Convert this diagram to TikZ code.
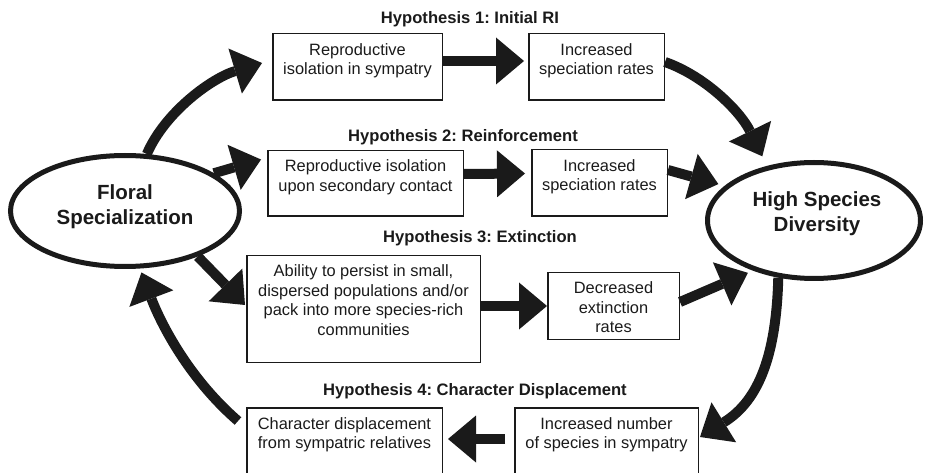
\documentclass[tikz,border=0pt]{standalone}
\usepackage{fontspec}
\setmainfont{Liberation Sans}
\usetikzlibrary{shapes.geometric,arrows.meta}
\definecolor{ink}{HTML}{1A1A1A}
\frenchspacing
\begin{document}
\begin{tikzpicture}[x=1pt,y=-1pt,
  box/.style={draw=ink,line width=1.5pt,rectangle,inner sep=0pt},
  ell/.style={draw=ink,line width=5pt,ellipse,inner sep=0pt},
  txt/.style={font=\fontsize{16.4}{19.5}\selectfont,align=center,inner sep=0pt,text=ink,anchor=north},
  hyp/.style={font=\bfseries\fontsize{16.6}{20}\selectfont,inner sep=0pt,text=ink,anchor=base},
  bigtxt/.style={font=\bfseries\fontsize{20.5}{24.5}\selectfont,align=center,inner sep=0pt,text=ink,anchor=north},
  arr/.style={draw=ink,line width=10pt,-{Triangle[length=28pt,width=47pt,line width=0pt]}}]
\useasboundingbox (0,0) rectangle (927,473);

% ellipses
\node[ell,minimum width=229pt,minimum height=111pt] (ell1) at (125,211) {};
\node[ell,minimum width=213pt,minimum height=116pt] (ell2) at (814,220.5) {};
\node[bigtxt] (ell1t) at (125,184.5) {Floral\\Specialization};
\node[bigtxt] (ell2t) at (817,191.5) {High Species\\Diversity};

% titles
\node[hyp] (h1) at (470,24) {Hypothesis 1: Initial RI};
\node[hyp] (h2) at (463,142) {Hypothesis 2: Reinforcement};
\node[hyp] (h3) at (480,243) {Hypothesis 3: Extinction};
\node[hyp] (h4) at (475,395) {Hypothesis 4: Character Displacement};

% boxes
\node[box,minimum width=169.5pt,minimum height=66.5pt] (b1a) at (357.5,67) {};
\node[box,minimum width=135.5pt,minimum height=66.5pt] (b1b) at (596.5,67) {};
\node[box,minimum width=195.5pt,minimum height=65.5pt] (b2a) at (365.5,183.5) {};
\node[box,minimum width=135.5pt,minimum height=66.5pt] (b2b) at (599.5,183) {};
\node[box,minimum width=233.5pt,minimum height=106.5pt] (b3a) at (363.5,309) {};
\node[box,minimum width=131.5pt,minimum height=66.5pt] (b3b) at (613.5,306) {};
\node[box,minimum width=195.5pt,minimum height=66.5pt] (b4a) at (344.5,441) {};
\node[box,minimum width=183.5pt,minimum height=66.5pt] (b4b) at (606.5,441) {};

% box texts
\node[txt] (b1at) at ([yshift=-10pt]b1a.north) {Reproductive\\isolation in sympatry};
\node[txt] (b1bt) at ([yshift=-10pt]b1b.north) {Increased\\speciation rates};
\node[txt] (b2at) at ([yshift=-9.5pt]b2a.north) {Reproductive isolation\\upon secondary contact};
\node[txt] (b2bt) at ([yshift=-10pt]b2b.north) {Increased\\speciation rates};
\node[txt] (b3at) at ([yshift=-9.5pt]b3a.north) {Ability to persist in small,\\dispersed populations and/or\\pack into more species-rich\\communities};
\node[txt] (b3bt) at ([yshift=-9.7pt]b3b.north) {Decreased\\extinction\\rates};
\node[txt] (b4at) at ([yshift=-10pt]b4a.north) {Character displacement\\from sympatric relatives};
\node[txt] (b4bt) at ([yshift=-10pt]b4b.north) {Increased number\\of species in sympatry};

% arrows
\draw[arr] (ell1.69) .. controls +(18,-42) and +(-50,15) .. ([xshift=-10pt,yshift=4pt]b1a.west);
\draw[arr] (ell1.23) -- ([xshift=-6pt,yshift=24pt]b2a.west);
\draw[arr] (ell1.-32) -- ([xshift=-1pt,yshift=4pt]b3a.west);
\draw[arr] ([xshift=-8pt,yshift=-14pt]b4a.north west) .. controls +(-53,-46) and +(17,45) .. ([yshift=-4pt]ell1.-74);

\draw[arr] ([yshift=6pt]b1a.east) -- ([xshift=-4pt,yshift=6pt]b1b.west);
\draw[arr] ([yshift=9.5pt]b2a.east) -- ([xshift=-6pt,yshift=9.5pt]b2b.west);
\draw[arr] ([yshift=3pt]b3a.east) -- (b3b.west);
\draw[arr] ([xshift=-9pt,yshift=2pt]b4b.west) -- ([xshift=5pt,yshift=2pt]b4a.east);

\draw[arr] ([yshift=5pt]b1b.east) .. controls +(40,14) and +(-22,-45) .. ([xshift=-7pt,yshift=9pt]ell2.129);
\draw[arr] ([yshift=13pt]b2b.east) -- ([xshift=-6pt,yshift=2pt]ell2.159);
\draw[arr] ([yshift=4pt]b3b.east) -- ([xshift=-3pt,yshift=-3pt]ell2.218);
\draw[arr] (ell2.-122) .. controls +(-2,75) and +(60,-37) .. ([xshift=1pt,yshift=-30pt]b4b.north east);
\end{tikzpicture}
\end{document}
